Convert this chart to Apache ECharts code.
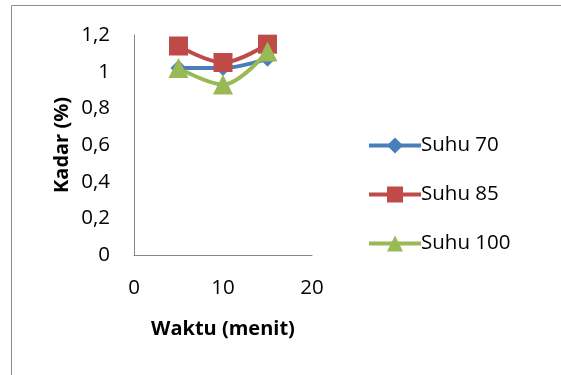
<!DOCTYPE html>
<html>
<head>
<meta charset="utf-8">
<script src="https://cdn.jsdelivr.net/npm/echarts@6/dist/echarts.min.js"></script>
<style>
  html, body { margin: 0; padding: 0; background: #fff; }
  #chart { width: 561px; height: 375px; }
</style>
</head>
<body>
<div id="chart"></div>
<script>
// Waktu (menit) on x, Kadar (%) on y
const waktu = [5, 10, 15];
const suhu70 = [1.02, 1.02, 1.07];
const suhu85 = [1.14, 1.05, 1.15];
const suhu100 = [1.02, 0.93, 1.11];
const seriesNames = ['Suhu 70', 'Suhu 85', 'Suhu 100'];
const xTicks = [0, 10, 20];
const yTicks = [0, 0.2, 0.4, 0.6, 0.8, 1, 1.2];

const font = '"Open Sans", "Noto Sans", sans-serif';
const pairs = (ys) => waktu.map((x, i) => [x, ys[i]]);

const chart = echarts.init(document.getElementById('chart'));
chart.setOption({
  animation: false,
  backgroundColor: '#fff',
  graphic: [{
    type: 'rect',
    shape: { x: 11.5, y: 5.5, width: 600, height: 400 },
    style: { fill: 'none', stroke: '#8c8c8c', lineWidth: 1 },
    silent: true
  }],
  grid: { left: 134, top: 35, width: 178, height: 220 },
  legend: {
    orient: 'vertical',
    left: 362,
    top: 130,
    itemWidth: 52,
    itemHeight: 20,
    itemGap: 28,
    lineStyle: { width: 4 },
    textStyle: { fontFamily: font, fontSize: 20.5, color: '#000', padding: [0, 0, 0, -5] },
    data: seriesNames
  },
  xAxis: {
    type: 'value',
    min: xTicks[0], max: xTicks[xTicks.length - 1], interval: 10,
    name: 'Waktu (menit)',
    nameLocation: 'middle',
    nameGap: 64,
    nameTextStyle: { fontFamily: font, fontSize: 20, fontWeight: 'bold', color: '#000' },
    axisLine: { lineStyle: { color: '#868686', width: 1 } },
    axisTick: { show: false },
    splitLine: { show: false },
    axisLabel: { fontFamily: font, fontSize: 20.5, color: '#000', margin: 23 }
  },
  yAxis: {
    type: 'value',
    min: yTicks[0], max: yTicks[yTicks.length - 1], interval: 0.2,
    name: 'Kadar (%)',
    nameLocation: 'middle',
    nameGap: 62,
    nameRotate: 90,
    nameTextStyle: { fontFamily: font, fontSize: 20, fontWeight: 'bold', color: '#000' },
    axisLine: { show: true, lineStyle: { color: '#868686', width: 1 } },
    axisTick: { show: false },
    splitLine: { show: false },
    axisLabel: {
      fontFamily: font, fontSize: 20.5, color: '#000', margin: 24,
      formatter: (v) => String(Math.round(v * 10) / 10).replace('.', ',')
    }
  },
  series: [
    {
      name: seriesNames[0], type: 'line', smooth: 0.35,
      data: pairs(suhu70),
      symbol: 'diamond', symbolSize: 16,
      lineStyle: { color: '#4a7ebb', width: 4 },
      itemStyle: { color: '#4a7ebb' }
    },
    {
      name: seriesNames[1], type: 'line', smooth: 0.35,
      data: pairs(suhu85),
      symbol: 'rect', symbolSize: 19,
      lineStyle: { color: '#be4b48', width: 4 },
      itemStyle: { color: '#be4b48' }
    },
    {
      name: seriesNames[2], type: 'line', smooth: 0.35,
      data: pairs(suhu100),
      symbol: 'triangle', symbolSize: 20,
      lineStyle: { color: '#98b954', width: 4 },
      itemStyle: { color: '#98b954' }
    }
  ]
});
</script>
</body>
</html>
